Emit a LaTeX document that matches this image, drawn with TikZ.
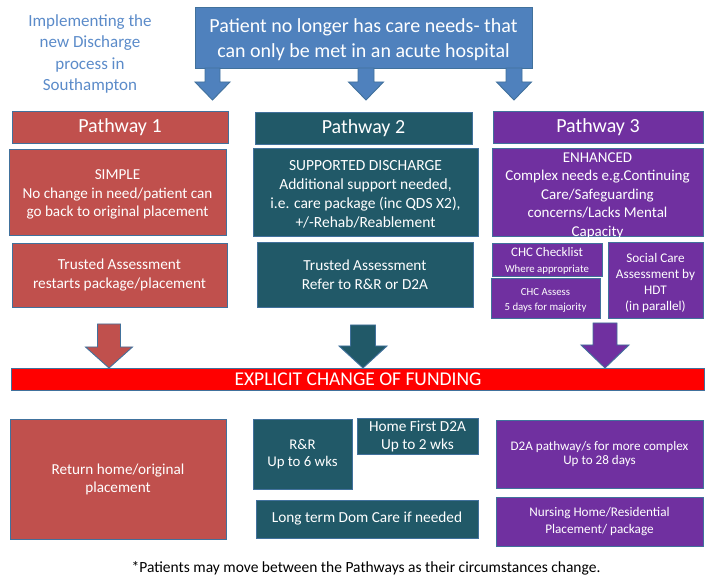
\documentclass[tikz,border=0pt]{standalone}
\usepackage{fontspec}
\setmainfont{Carlito}
\definecolor{bordc}{HTML}{41719C}
\definecolor{topblue}{HTML}{4F81BD}
\definecolor{titleblue}{HTML}{5B8BC9}
\definecolor{pred}{HTML}{C0504D}
\definecolor{pteal}{HTML}{215968}
\definecolor{ppurple}{HTML}{7030A0}
\definecolor{barred}{HTML}{FF0000}
\newcommand\blockarr[7]{%
  \filldraw[fill=#7,draw=bordc,line width=0.9pt,line join=miter]
    ({#1-#5},#2) -- ({#1+#5},#2) -- ({#1+#5},#3) -- ({#1+#6},#3) -- (#1,#4)
    -- ({#1-#6},#3) -- ({#1-#5},#3) -- cycle;}
\newcommand\fs[2]{\fontsize{#1}{#2}\selectfont}
\begin{document}
\begin{tikzpicture}[x=1pt,y=-1pt,
  box/.style={draw=bordc, line width=0.9pt, inner sep=0pt, text=white, align=center},
  txt/.style={inner sep=0pt, text=white, align=center}]
\useasboundingbox (0,0) rectangle (705,577);

% title
\node[inner sep=0pt, align=center, text=titleblue, font=\fs{17}{21.5}] (title) at (90,54)
  {Implementing the\\new Discharge\\process in\\Southampton};

% top box
\node[box, fill=topblue, minimum width=337pt, minimum height=61pt] (top) at (363.5,37.5) {};
\node[txt, font=\fs{20}{25.5}] at ([yshift=-2pt]top.center)
  {Patient no longer has care needs- that\\can only be met in an acute hospital};

% top arrows
\blockarr{212.5}{68}{82}{100}{7.5}{17.5}{topblue}
\blockarr{366}{68}{82}{100}{8}{17.5}{topblue}
\blockarr{514}{68}{82}{100}{8}{17.5}{topblue}

% pathway 1
\node[box, fill=pred, minimum width=216pt, minimum height=32pt, font=\fs{20}{22}] (p1h) at (120,127) {Pathway 1};
\node[box, fill=pred, minimum width=217pt, minimum height=86pt] (p1b) at (117.5,192) {};
\node[txt, font=\fs{15.2}{18.5}] at ([yshift=-2.5pt]p1b.center)
  {SIMPLE\\No change in need/patient can\\go back to original placement};
\node[box, fill=pred, minimum width=215pt, minimum height=64pt, font=\fs{15.3}{18.5}] (p1c) at (119.5,275)
  {Trusted Assessment\\restarts package/placement};

% pathway 2
\node[box, fill=pteal, minimum width=217pt, minimum height=32pt, font=\fs{20}{22}] (p2h) at (363.5,128) {Pathway 2};
\node[box, fill=pteal, minimum width=225pt, minimum height=88pt] (p2b) at (365.5,192) {};
\node[txt, font=\fs{15.5}{19}] (p2bt) at ([yshift=-2.5pt]p2b.center)
  {SUPPORTED DISCHARGE\\Additional support  needed,\\i.e. care package (inc QDS X2),\\+/-Rehab/Reablement};
\node[box, fill=pteal, minimum width=216pt, minimum height=65pt, font=\fs{15.3}{19}] (p2c) at (365,274.5)
  {Trusted Assessment\\Refer to R\&R or D2A};

% pathway 3
\node[box, fill=ppurple, minimum width=210pt, minimum height=32pt, font=\fs{20}{22}] (p3h) at (598,127) {Pathway 3};
\node[box, fill=ppurple, minimum width=211pt, minimum height=88pt] (p3b) at (597.5,192) {};
\node[txt, font=\fs{15}{18.5}] (p3bt) at ([yshift=-3.5pt]p3b.center)
  {ENHANCED\\Complex needs e.g.Continuing\\Care/Safeguarding\\concerns/Lacks Mental\\Capacity};
\node[box, fill=ppurple, minimum width=110pt, minimum height=33pt] (chc1) at (547,259.5) {};
\node[txt, font=\fs{13}{16}] at ([yshift=-1pt]chc1.center)
  {CHC Checklist\\{\fs{10.8}{12}Where appropriate}};
\node[box, fill=ppurple, minimum width=109pt, minimum height=40pt] (chc2) at (545.5,298) {};
\node[txt, font=\fs{10.8}{15}] at ([yshift=-2pt]chc2.center)
  {CHC  Assess\\5 days for majority};
\node[box, fill=ppurple, minimum width=95pt, minimum height=76pt] (soc) at (655.5,280) {};
\node[txt, font=\fs{13.2}{16}] at ([yshift=-2.5pt]soc.center)
  {Social Care\\Assessment by\\HDT\\(in parallel)};

% lower arrows
\blockarr{109}{324}{347}{368}{11.5}{23.5}{pred}
\blockarr{363}{325}{346}{368}{12.5}{24}{pteal}
\blockarr{605}{323}{345}{368}{12}{24}{ppurple}

% red bar
\node[box, fill=barred, minimum width=693pt, minimum height=22pt, font=\fs{19.5}{20}] (bar) at (358,379)
  {EXPLICIT CHANGE OF FUNDING};

% outcomes
\node[box, fill=pred, minimum width=216pt, minimum height=120pt, font=\fs{15.2}{18}] (ret) at (118,479)
  {Return home/original\\placement};
\node[box, fill=pteal, minimum width=99pt, minimum height=70pt, font=\fs{14.8}{17.5}] (rr) at (302.5,454)
  {R\&R\\Up to 6 wks};
\node[box, fill=pteal, minimum width=121pt, minimum height=36pt] (hf) at (417.5,436) {};
\node[txt, font=\fs{15.3}{18}] at ([yshift=0pt]hf.center)
  {Home First D2A\\Up to 2 wks};
\node[box, fill=pteal, minimum width=222pt, minimum height=38pt, font=\fs{15.3}{18}] (lt) at (367,519)
  {Long term Dom Care if needed};
\node[box, fill=ppurple, minimum width=207pt, minimum height=68pt, font=\fs{13.1}{14.5}] (d2a) at (599.5,454)
  {D2A pathway/s for more complex\\Up to 28 days};
\node[box, fill=ppurple, minimum width=207pt, minimum height=49pt, font=\fs{13.2}{17}] (nh) at (599.5,521.5)
  {Nursing Home/Residential\\Placement/ package};

% footnote
\node[inner sep=0pt, font=\fs{15.5}{16}] (foot) at (366,568)
  {*Patients may move between the Pathways as their circumstances change.};
\end{tikzpicture}
\end{document}
